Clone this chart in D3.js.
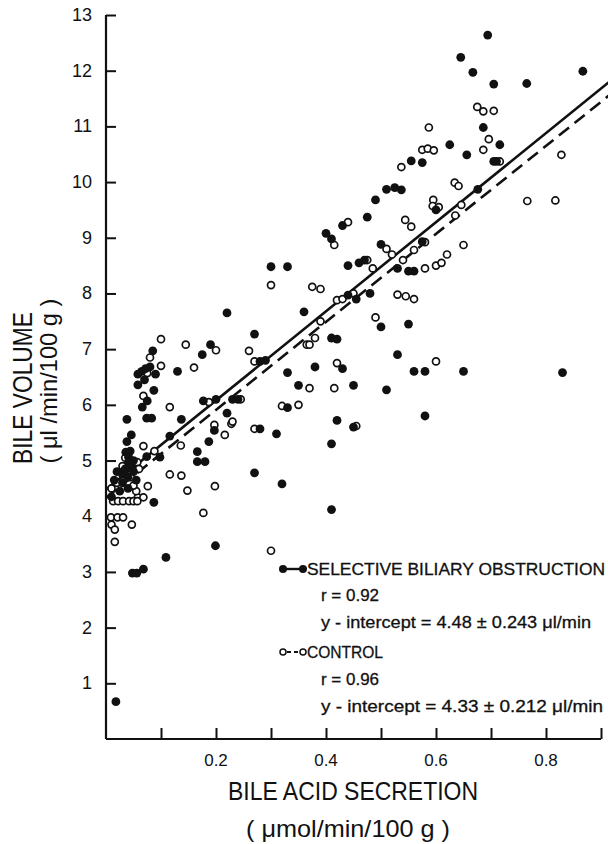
<!DOCTYPE html>
<html lang="en">
<head>
    <meta charset="UTF-8">
    <title>Bile volume vs bile acid secretion</title>
    <style>
        body, html {
            margin: 0;
            padding: 0;
            width: 100%;
            height: 100%;
            overflow: hidden;
            background: #fff;
        }
        text {
            font-family: "Liberation Sans", Arial, sans-serif;
            fill: #111;
        }
    </style>
    <script src="https://d3js.org/d3.v7.min.js"></script>
</head>
<body>
    <div id="chart"></div>

    <script>
        const width = 608;
        const height = 844;

        // selective biliary obstruction (filled circles): [bile acid secretion, bile volume]
        const obstruction = [
            [0.694, 12.64], [0.645, 12.24], [0.667, 11.97], [0.705, 11.76], [0.765, 11.77], [0.867, 11.99],
            [0.686, 10.98], [0.716, 10.67], [0.625, 10.67], [0.656, 10.49], [0.555, 10.38], [0.575, 10.35],
            [0.705, 10.37], [0.710, 10.37], [0.676, 9.87], [0.537, 9.86], [0.51, 9.87], [0.525, 9.9],
            [0.49, 9.68], [0.475, 9.37], [0.43, 9.22], [0.40, 9.08], [0.41, 8.98], [0.60, 9.5], [0.575, 8.93],
            [0.30, 8.48], [0.33, 8.48], [0.44, 8.5], [0.46, 8.55], [0.47, 8.6], [0.50, 8.88], [0.53, 8.45],
            [0.55, 8.4], [0.56, 8.4], [0.22, 7.65], [0.44, 7.97], [0.455, 7.9], [0.48, 8.0], [0.36, 7.67],
            [0.50, 7.4], [0.55, 7.45], [0.41, 7.2], [0.42, 7.18], [0.27, 7.27], [0.19, 7.08], [0.175, 6.9],
            [0.085, 6.97], [0.058, 6.55], [0.065, 6.6], [0.072, 6.65], [0.08, 6.68], [0.09, 6.55], [0.07, 6.45],
            [0.058, 6.36], [0.087, 6.26], [0.075, 6.07], [0.066, 5.96], [0.13, 6.6], [0.28, 6.78], [0.29, 6.8],
            [0.33, 6.58], [0.35, 6.35], [0.38, 6.68], [0.43, 6.65], [0.45, 6.35], [0.51, 6.27], [0.53, 6.9],
            [0.56, 6.6], [0.58, 6.6], [0.65, 6.6], [0.83, 6.58], [0.20, 6.1], [0.23, 6.1], [0.24, 6.1],
            [0.177, 6.07], [0.33, 5.95], [0.074, 5.76], [0.083, 5.76], [0.038, 5.74], [0.137, 5.74],
            [0.197, 5.54], [0.038, 5.34], [0.046, 5.46], [0.187, 5.34], [0.116, 5.44], [0.036, 5.15],
            [0.044, 5.17], [0.041, 5.06], [0.098, 5.06], [0.074, 5.07], [0.166, 5.16], [0.166, 4.98],
            [0.180, 4.98], [0.041, 4.97], [0.22, 5.85], [0.28, 5.57], [0.31, 5.48], [0.42, 5.72], [0.45, 5.6],
            [0.41, 5.3], [0.58, 5.8], [0.087, 4.25], [0.27, 4.78], [0.32, 4.58], [0.41, 4.12],
            [0.02, 4.8], [0.03, 4.75], [0.035, 4.85], [0.04, 4.7], [0.045, 4.9], [0.05, 4.8], [0.03, 4.6],
            [0.025, 4.45], [0.015, 4.65], [0.04, 4.5], [0.05, 5.0], [0.055, 4.65], [0.01, 4.35],
            [0.199, 3.47], [0.109, 3.26], [0.048, 2.98], [0.056, 2.98], [0.068, 3.05], [0.018, 0.67]
        ];

        // control (open circles)
        const control = [
            [0.675, 11.35], [0.686, 11.27], [0.705, 11.28], [0.587, 10.98], [0.696, 10.77], [0.575, 10.58],
            [0.585, 10.60], [0.596, 10.57], [0.686, 10.58], [0.716, 10.37], [0.828, 10.49], [0.537, 10.27],
            [0.634, 9.99], [0.641, 9.93], [0.595, 9.68], [0.594, 9.57], [0.605, 9.55], [0.646, 9.59],
            [0.635, 9.40], [0.766, 9.66], [0.817, 9.67], [0.544, 9.32], [0.555, 9.2], [0.44, 9.28],
            [0.415, 8.87], [0.58, 8.92], [0.30, 8.15], [0.375, 8.12], [0.39, 8.08], [0.475, 8.6],
            [0.485, 8.45], [0.51, 8.8], [0.52, 8.7], [0.54, 8.6], [0.56, 8.78], [0.58, 8.45], [0.60, 8.5],
            [0.61, 8.55], [0.62, 8.7], [0.65, 8.87], [0.42, 7.88], [0.43, 7.9], [0.45, 8.0], [0.53, 7.98],
            [0.545, 7.95], [0.56, 7.9], [0.39, 7.5], [0.49, 7.57], [0.38, 7.2], [0.365, 7.08], [0.37, 7.08],
            [0.145, 7.08], [0.10, 7.18], [0.20, 6.98], [0.26, 6.97], [0.27, 6.78], [0.16, 6.67], [0.10, 6.7],
            [0.075, 6.57], [0.08, 6.85], [0.068, 6.16], [0.37, 6.3], [0.415, 6.3], [0.42, 6.75], [0.60, 6.78],
            [0.245, 6.1], [0.187, 6.05], [0.116, 5.96], [0.32, 5.98], [0.35, 6.0], [0.197, 5.64],
            [0.216, 5.46], [0.228, 5.66], [0.23, 5.7], [0.27, 5.57], [0.455, 5.62], [0.068, 5.26],
            [0.136, 5.27], [0.088, 5.17], [0.057, 4.97], [0.116, 4.75], [0.137, 4.73], [0.076, 4.54],
            [0.148, 4.46], [0.198, 4.54], [0.058, 4.34], [0.068, 4.34], [0.013, 4.27], [0.022, 4.27],
            [0.031, 4.27], [0.042, 4.27], [0.050, 4.27], [0.057, 4.27], [0.01, 4.5], [0.02, 4.6],
            [0.03, 4.9], [0.045, 4.7], [0.055, 4.45], [0.06, 4.85], [0.035, 5.05], [0.05, 4.55],
            [0.177, 4.06], [0.009, 3.98], [0.021, 3.98], [0.031, 3.98], [0.047, 3.85], [0.010, 3.85],
            [0.016, 3.76], [0.016, 3.54], [0.30, 3.38]
        ];

        // regression lines: [intercept, slope]
        const fitObstruction = [4.48, 8.0];
        const fitControl = [4.33, 7.9];

        const xTicks = [0.1, 0.2, 0.3, 0.4, 0.5, 0.6, 0.7, 0.8, 0.9];
        const xLabels = [0.2, 0.4, 0.6, 0.8];
        const yTicks = [1, 2, 3, 4, 5, 6, 7, 8, 9, 10, 11, 12, 13];

        const legendLines = [
            { text: "SELECTIVE BILIARY OBSTRUCTION", x: 307, y: 575, w: 298 },
            { text: "r = 0.92", x: 321, y: 601, w: 58 },
            { text: "y - intercept  = 4.48 \u00b1 0.243 \u03bcl/min", x: 321, y: 628, w: 270 },
            { text: "CONTROL", x: 307, y: 658, w: 76 },
            { text: "r = 0.96", x: 321, y: 685, w: 58 },
            { text: "y - intercept  = 4.33  \u00b1 0.212 \u03bcl/min", x: 321, y: 712, w: 282 }
        ];

        const x = d3.scaleLinear().domain([0, 0.9]).range([106, 601]);
        const y = d3.scaleLinear().domain([0, 13]).range([739, 15]);

        const svg = d3.select("#chart")
            .append("svg")
            .attr("width", width)
            .attr("height", height);

        // axes, ticks pointing inward
        const xAxis = d3.axisTop(x).tickValues(xTicks).tickSize(11).tickFormat("");
        const gx = svg.append("g")
            .attr("transform", `translate(0,${y(0)})`)
            .call(xAxis);

        const yAxis = d3.axisRight(y).tickValues(yTicks).tickSize(10).tickFormat("");
        const gy = svg.append("g")
            .attr("transform", `translate(${x(0)},0)`)
            .call(yAxis);

        [gx, gy].forEach(g => {
            g.select(".domain").attr("stroke", "#111").attr("stroke-width", 2.2);
            g.selectAll(".tick line").attr("stroke", "#111").attr("stroke-width", 2);
        });
        // plain axis lines without the d3 end caps
        gx.select(".domain").attr("d", `M${x(0)},0H${x(0.9)}`);
        gy.select(".domain").attr("d", `M0,${y(13)}V${y(0)}`);

        svg.append("g").selectAll("text")
            .data(xLabels)
            .enter().append("text")
            .attr("x", d => x(d))
            .attr("y", 766)
            .attr("text-anchor", "middle")
            .style("font-size", "17px")
            .text(d => d3.format(".1f")(d));

        svg.append("g").selectAll("text")
            .data(yTicks)
            .enter().append("text")
            .attr("x", 92)
            .attr("y", d => y(d) + 6)
            .attr("text-anchor", "end")
            .style("font-size", "18px")
            .text(d => d);

        // regression lines
        const line = d3.line().x(d => x(d[0])).y(d => y(d[1]));
        const fitPoints = f => [0, 0.92].map(v => [v, f[0] + f[1] * v]);

        svg.append("path")
            .attr("d", line(fitPoints(fitObstruction)))
            .attr("fill", "none")
            .attr("stroke", "#111")
            .attr("stroke-width", 2.6);

        svg.append("path")
            .attr("d", line(fitPoints(fitControl)))
            .attr("fill", "none")
            .attr("stroke", "#111")
            .attr("stroke-width", 2.6)
            .attr("stroke-dasharray", "13,7");

        // points
        svg.append("g").selectAll("circle")
            .data(control)
            .enter().append("circle")
            .attr("cx", d => x(d[0]))
            .attr("cy", d => y(d[1]))
            .attr("r", 3.5)
            .attr("fill", "#fff")
            .attr("stroke", "#111")
            .attr("stroke-width", 1.7);

        svg.append("g").selectAll("circle")
            .data(obstruction)
            .enter().append("circle")
            .attr("cx", d => x(d[0]))
            .attr("cy", d => y(d[1]))
            .attr("r", 4.4)
            .attr("fill", "#111");

        // legend
        const legend = svg.append("g");
        legend.append("line")
            .attr("x1", 283).attr("x2", 303).attr("y1", 569).attr("y2", 569)
            .attr("stroke", "#111").attr("stroke-width", 2.4);
        legend.selectAll(".lf")
            .data([283, 303])
            .enter().append("circle")
            .attr("cx", d => d).attr("cy", 569).attr("r", 4)
            .attr("fill", "#111");
        legend.append("line")
            .attr("x1", 287).attr("x2", 299).attr("y1", 652).attr("y2", 652)
            .attr("stroke", "#111").attr("stroke-width", 1.8)
            .attr("stroke-dasharray", "4,3");
        legend.selectAll(".lo")
            .data([283, 303])
            .enter().append("circle")
            .attr("cx", d => d).attr("cy", 652).attr("r", 3)
            .attr("fill", "#fff").attr("stroke", "#111").attr("stroke-width", 1.5);

        legend.selectAll("text")
            .data(legendLines)
            .enter().append("text")
            .attr("x", d => d.x)
            .attr("y", d => d.y)
            .attr("textLength", d => d.w)
            .attr("lengthAdjust", "spacingAndGlyphs")
            .style("font-size", "17px")
            .style("stroke", "#111")
            .style("stroke-width", 0.3)
            .text(d => d.text);

        // axis titles
        svg.append("text")
            .attr("x", 353).attr("y", 800)
            .attr("text-anchor", "middle")
            .attr("textLength", 250).attr("lengthAdjust", "spacingAndGlyphs")
            .style("font-size", "25px")
            .text("BILE ACID SECRETION");

        svg.append("text")
            .attr("x", 348).attr("y", 837)
            .attr("text-anchor", "middle")
            .attr("textLength", 204).attr("lengthAdjust", "spacingAndGlyphs")
            .style("font-size", "24px")
            .text("( \u03bcmol/min/100 g )");

        svg.append("text")
            .attr("transform", "translate(32,388) rotate(-90)")
            .attr("text-anchor", "middle")
            .attr("textLength", 152).attr("lengthAdjust", "spacingAndGlyphs")
            .style("font-size", "27px")
            .text("BILE VOLUME");

        svg.append("text")
            .attr("transform", "translate(57,381) rotate(-90)")
            .attr("text-anchor", "middle")
            .attr("textLength", 165).attr("lengthAdjust", "spacingAndGlyphs")
            .style("font-size", "24px")
            .text("( \u03bcl /min/100 g )");
    </script>
</body>
</html>
